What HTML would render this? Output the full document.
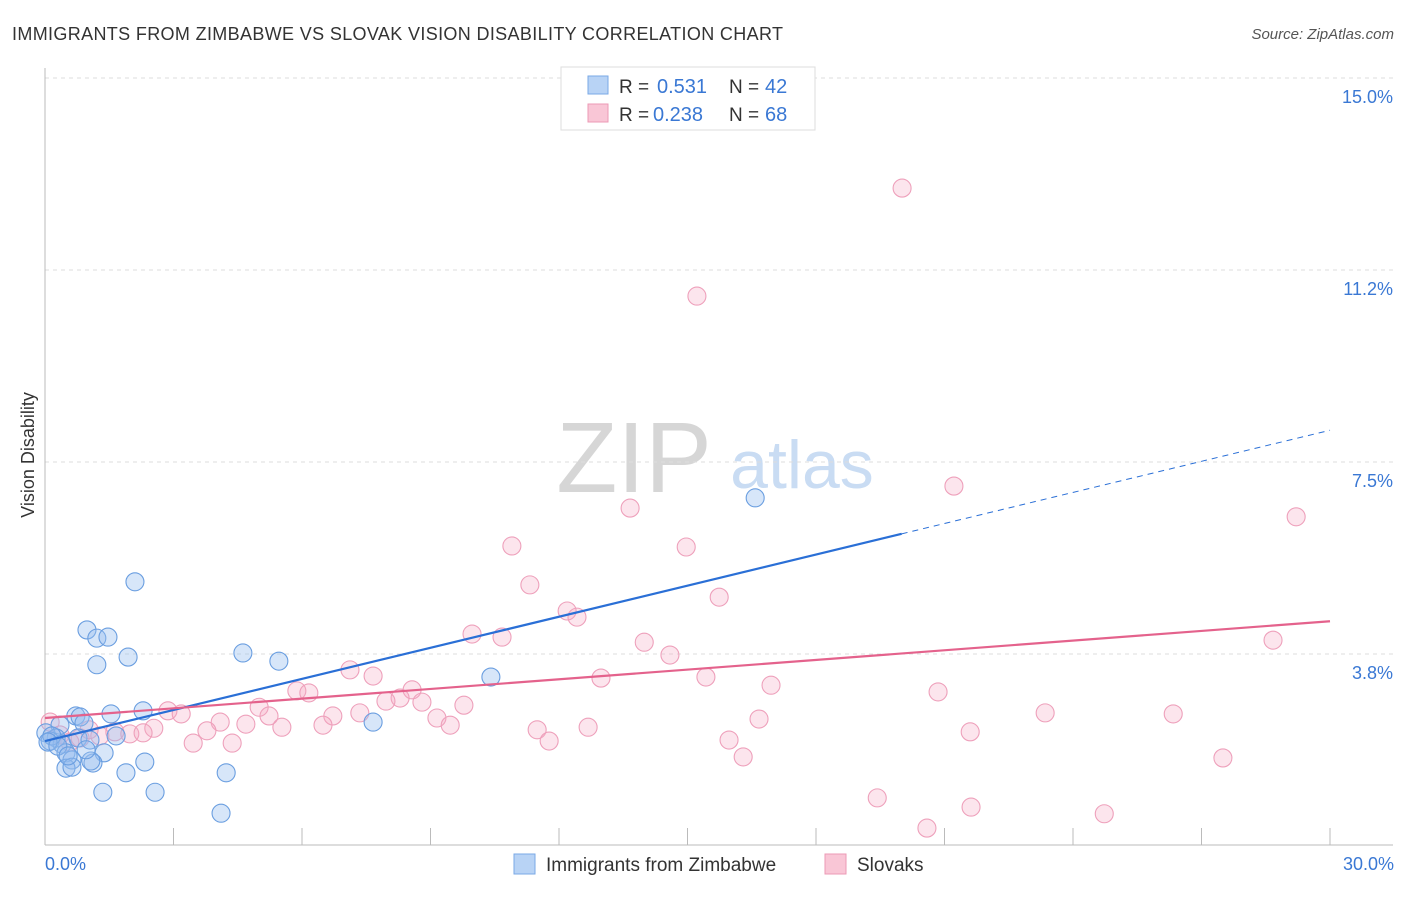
<!DOCTYPE html>
<html><head><meta charset="utf-8"><style>
body{margin:0;background:#fff;font-family:"Liberation Sans",sans-serif;}
svg text{font-family:"Liberation Sans",sans-serif;}
</style></head><body>
<svg id="c" width="1406" height="892">
<text x="12" y="40" font-size="18" fill="#333" textLength="771">IMMIGRANTS FROM ZIMBABWE VS SLOVAK VISION DISABILITY CORRELATION CHART</text>
<text x="1394" y="39" font-size="15" fill="#555" font-style="italic" text-anchor="end">Source: ZipAtlas.com</text>
<g>
<text x="634" y="492" font-size="100" font-family="Liberation Serif" fill="#d6d6d6" text-anchor="middle">ZIP</text>
<text x="802" y="488" font-size="68" fill="#c9dcf3" text-anchor="middle">atlas</text>
</g>
<g id="grid"></g><g id="axes"></g><g id="pts"></g><g id="lines"></g>
<text transform="translate(34,455) rotate(-90)" font-size="18" fill="#333" text-anchor="middle">Vision Disability</text>
<text x="45" y="870" font-size="18" fill="#3a78d4">0.0%</text>
<text x="1394" y="870" font-size="18" fill="#3a78d4" text-anchor="end">30.0%</text>
<g>
<rect x="561" y="67" width="254" height="63" fill="#fff" stroke="#ddd"/>
<rect x="588" y="76" width="20" height="18" fill="#b8d3f5" stroke="#7aa8e6"/>
<rect x="588" y="104" width="20" height="18" fill="#f9c6d6" stroke="#ec9ab5"/>
<text x="619" y="93" font-size="19" fill="#333">R =</text>
<text x="657" y="93" font-size="20" fill="#3a78d4">0.531</text>
<text x="729" y="93" font-size="19" fill="#333">N =</text>
<text x="765" y="93" font-size="20" fill="#3a78d4">42</text>
<text x="619" y="121" font-size="19" fill="#333">R =</text>
<text x="653" y="121" font-size="20" fill="#3a78d4">0.238</text>
<text x="729" y="121" font-size="19" fill="#333">N =</text>
<text x="765" y="121" font-size="20" fill="#3a78d4">68</text>
</g>
<g>
<rect x="514" y="854" width="21" height="20" fill="#b8d3f5" stroke="#7aa8e6"/>
<text x="546" y="871" font-size="19" fill="#333">Immigrants from Zimbabwe</text>
<rect x="825" y="854" width="21" height="20" fill="#f9c6d6" stroke="#ec9ab5"/>
<text x="857" y="871" font-size="19" fill="#333">Slovaks</text>
</g>
</svg>
<script>
const yTicks=[3.75,7.5,11.25,15];
const yTickLabels=["3.8%","7.5%","11.2%","15.0%"];
const xTicks=[3,6,9,12,15,18,21,24,27,30];
const blueX=[2.10,0.98,1.21,1.47,1.94,1.21,4.62,5.46,16.58,10.41,1.54,2.29,0.72,0.82,7.66,0.35,0.91,0.02,0.26,0.12,0.40,0.77,1.05,1.66,1.38,0.49,0.63,1.12,1.07,2.33,0.49,0.63,1.89,4.23,1.35,2.57,4.11,0.16,0.07,0.30,0.54,0.96];
const blueY=[5.16,4.22,4.06,4.08,3.69,3.54,3.77,3.61,6.80,3.30,2.58,2.64,2.54,2.52,2.42,2.36,2.40,2.21,2.11,2.05,1.99,2.11,2.07,2.15,1.82,1.82,1.68,1.62,1.66,1.64,1.52,1.54,1.43,1.43,1.05,1.05,0.64,2.15,2.03,1.95,1.76,1.88];
const pinkX=[20.01,15.22,21.22,13.66,29.21,10.90,14.97,11.32,12.19,12.42,15.74,9.97,10.67,13.99,14.59,28.67,7.12,7.66,12.98,15.43,16.95,8.57,20.85,5.88,6.16,8.29,7.96,8.80,9.78,5.00,2.87,3.18,7.35,6.72,5.23,23.35,26.34,16.67,4.09,4.69,9.15,5.53,6.49,2.54,9.46,3.78,1.63,1.98,2.29,1.03,21.60,12.68,11.49,3.46,4.37,11.77,15.97,16.30,27.50,19.43,21.62,20.59,24.73,0.12,0.58,0.35,0.82,1.28];
const pinkY=[12.85,10.74,7.03,6.60,6.43,5.86,5.84,5.10,4.59,4.47,4.86,4.14,4.08,3.98,3.73,4.02,3.44,3.32,3.28,3.30,3.14,3.05,3.01,3.03,2.99,2.89,2.83,2.81,2.75,2.71,2.64,2.58,2.60,2.54,2.54,2.60,2.58,2.48,2.42,2.38,2.50,2.32,2.36,2.30,2.36,2.25,2.23,2.19,2.21,2.27,2.23,2.32,2.27,2.01,2.01,2.05,2.07,1.74,1.72,0.94,0.76,0.35,0.63,2.42,2.03,2.17,2.11,2.15];
const blueTrend=[2.05,8.12];
const pinkTrend=[2.50,4.39];
const NS="http://www.w3.org/2000/svg";
const X=v=>45+v*1285/30, Y=v=>846-v*51.2;
function mk(t,a,p){const e=document.createElementNS(NS,t);for(const k in a)e.setAttribute(k,a[k]);document.getElementById(p).appendChild(e);return e;}
yTicks.forEach((t,i)=>{
 const l=mk('line',{x1:45,x2:1393,y1:Y(t),y2:Y(t),stroke:'#ddd','stroke-dasharray':'4,4'},'grid');
 
 
 const tx=mk('text',{x:1393,y:Y(t)+25,'font-size':18,fill:'#3a78d4','text-anchor':'end'},'grid');
 tx.textContent=yTickLabels[i];
 
 
});
let a=mk('line',{x1:45,x2:45,y1:68,y2:845,stroke:'#bbb'},'axes');


a=mk('line',{x1:45,x2:1393,y1:845,y2:845,stroke:'#bbb'},'axes');


xTicks.forEach(t=>{const l=mk('line',{x1:X(t),x2:X(t),y1:828,y2:845,stroke:'#bbb'},'axes');
 
 });
function dots(xs,ys,fill,stroke,name){xs.forEach((x,i)=>{const c=mk('circle',{cx:X(x),cy:Y(ys[i]),r:9,fill:fill,stroke:stroke,'stroke-width':1.1},'pts');
 
 });}
dots(pinkX,pinkY,'rgba(244,170,195,0.3)','#eea0bb','slovak-point');
dots(blueX,blueY,'rgba(150,190,238,0.38)','#6a9ee0','zimbabwe-point');
let l=mk('line',{x1:X(0),y1:Y(blueTrend[0]),x2:X(20),y2:Y(blueTrend[0]+(blueTrend[1]-blueTrend[0])*20/30),stroke:'#2a6fd6','stroke-width':2.2},'lines');


l=mk('line',{x1:X(20),y1:Y(blueTrend[0]+(blueTrend[1]-blueTrend[0])*20/30),x2:X(30),y2:Y(blueTrend[1]),stroke:'#2a6fd6','stroke-width':1,'stroke-dasharray':'6,5'},'lines');


l=mk('line',{x1:X(0),y1:Y(pinkTrend[0]),x2:X(30),y2:Y(pinkTrend[1]),stroke:'#e4628c','stroke-width':2.2},'lines');


</script>
</body></html>
